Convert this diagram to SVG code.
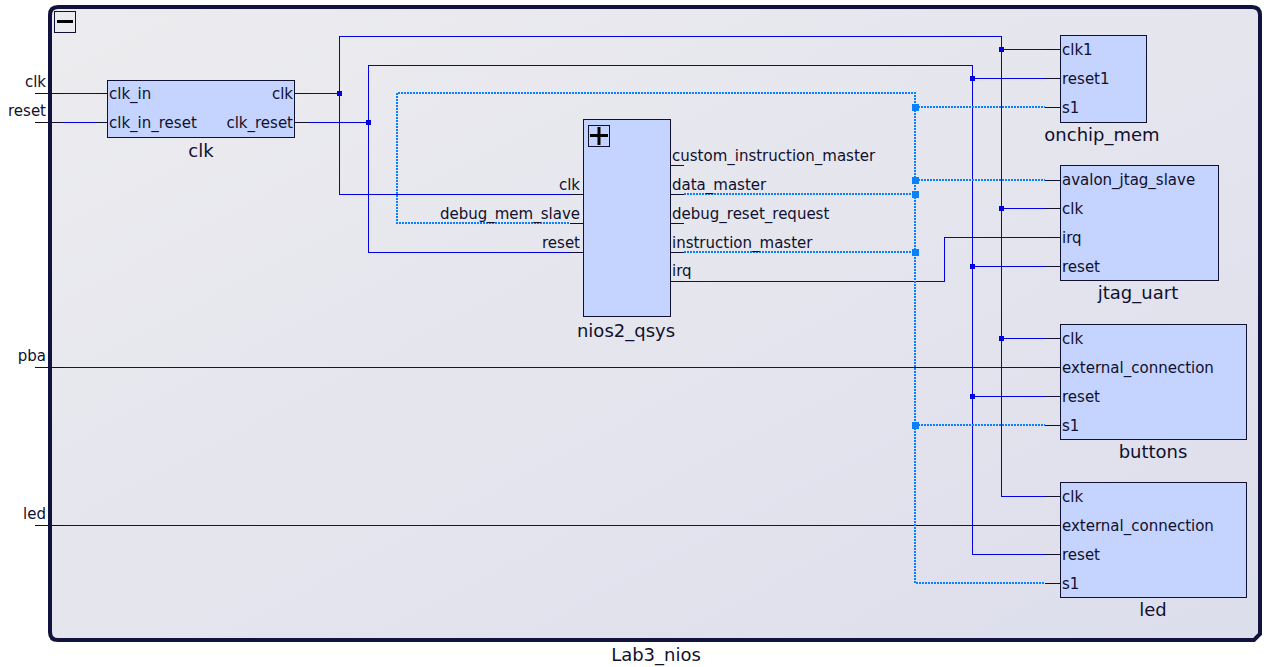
<svg xmlns="http://www.w3.org/2000/svg" width="1272" height="667" viewBox="0 0 1272 667">
<defs>
<linearGradient id="bg" x1="0" y1="0" x2="1" y2="1">
<stop offset="0" stop-color="#ececef"/>
<stop offset="1" stop-color="#dddeec"/>
</linearGradient>
<style>
.t{font-family:"DejaVu Sans",Verdana,sans-serif;font-size:15px;fill:#101030}
.tt{font-family:"DejaVu Sans",Verdana,sans-serif;font-size:18px;fill:#101030;text-anchor:middle}
.r{text-anchor:end}
.blk{fill:#c4d4fe;stroke:#101030;stroke-width:1}
.stub{stroke:#101030;stroke-width:1;fill:none}
.w{stroke:#0000e0;stroke-width:1;fill:none}
.av{stroke:#0a80ff;stroke-width:2;stroke-dasharray:2 1;fill:none}
.j{fill:#0000e0}
.ja{fill:#0a80ff}
</style>
</defs>
<rect width="1272" height="667" fill="#ffffff"/>
<g id="frame">
<path d="M58,7 H1252 Q1260,7 1260,15 V634 L1254,640 H58 Q50,640 50,632 V15 Q50,7 58,7 Z" fill="url(#bg)" stroke="#12123e" stroke-width="4"/>
<rect x="54.5" y="11.5" width="21" height="21" fill="none" stroke="#101030" stroke-width="1"/>
<rect x="57" y="20" width="16" height="3" fill="#000"/>
<text class="tt" x="656" y="661">Lab3_nios</text>
</g>
<g id="connectors" shape-rendering="crispEdges">
<path class="stub" d="M35,93.5 H63 M35,122.5 H63 M35,367.5 H63 M35,525.5 H63 M95,93.5 H107 M95,122.5 H107 M295,93.5 H309 M295,122.5 H309 M570,194.5 H583 M570,223.5 H583 M570,252.5 H583 M670,165.5 H684 M670,194.5 H684 M670,223.5 H684 M670,252.5 H684 M670,281.5 H684 M1045,49.5 H1060 M1045,78.5 H1060 M1045,107.5 H1060 M1045,180.5 H1060 M1045,208.5 H1060 M1045,237.5 H1060 M1045,266.5 H1060 M1045,338.5 H1060 M1045,367.5 H1060 M1045,396.5 H1060 M1045,425.5 H1060 M1045,496.5 H1060 M1045,525.5 H1060 M1045,554.5 H1060 M1045,583.5 H1060"/>
<path class="w" d="M63,93.5 H95 M63,122.5 H95 M63,367.5 H1045 M63,525.5 H1045"/>
<path class="w" d="M309,93.5 H339.5 M570,194.5 H339.5 V36.5 H1001.5 V496.5 H1045 M1001.5,49.5 H1045 M1001.5,208.5 H1045 M1001.5,338.5 H1045"/>
<path class="w" d="M309,122.5 H368.5 M570,252.5 H368.5 V65.5 H972.5 V554.5 H1045 M972.5,78.5 H1045 M972.5,266.5 H1045 M972.5,396.5 H1045"/>
<path class="w" d="M684,281.5 H944.5 V237.5 H1045"/>
<path class="av" d="M569,223 H397 V93 H915 V583 H1045 M915,107 H1045 M915,180 H1045 M684,194 H915 M684,252 H915 M915,425 H1045"/>
<rect class="j" x="337" y="91" width="5" height="5"/>
<rect class="j" x="366" y="120" width="5" height="5"/>
<rect class="j" x="999" y="47" width="5" height="5"/>
<rect class="j" x="999" y="206" width="5" height="5"/>
<rect class="j" x="999" y="336" width="5" height="5"/>
<rect class="j" x="970" y="76" width="5" height="5"/>
<rect class="j" x="970" y="264" width="5" height="5"/>
<rect class="j" x="970" y="394" width="5" height="5"/>
<rect class="ja" x="912" y="104" width="7" height="7"/>
<rect class="ja" x="912" y="177" width="7" height="7"/>
<rect class="ja" x="912" y="191" width="7" height="7"/>
<rect class="ja" x="912" y="249" width="7" height="7"/>
<rect class="ja" x="912" y="422" width="7" height="7"/>
</g>
<g id="exports">
<text class="t r" x="46" y="87">clk</text>
<text class="t r" x="46" y="116">reset</text>
<text class="t r" x="46" y="361">pba</text>
<text class="t r" x="46" y="519">led</text>
</g>
<g id="clk">
<rect class="blk" x="107.5" y="80.5" width="187" height="57"/>
<text class="t" x="109" y="99">clk_in</text>
<text class="t" x="109" y="128">clk_in_reset</text>
<text class="t r" x="293" y="99">clk</text>
<text class="t r" x="293" y="128">clk_reset</text>
<text class="tt" x="201" y="157">clk</text>
</g>
<g id="nios2_qsys">
<rect class="blk" x="583.5" y="119.5" width="87" height="197"/>
<rect x="588.5" y="125.5" width="21" height="21" fill="none" stroke="#101030" stroke-width="1"/>
<rect x="590" y="134" width="18" height="3" fill="#000"/>
<rect x="597.5" y="127" width="3" height="18" fill="#000"/>
<text class="t r" x="580" y="190">clk</text>
<text class="t r" x="580" y="219">debug_mem_slave</text>
<text class="t r" x="580" y="248">reset</text>
<text class="t" x="672" y="161">custom_instruction_master</text>
<text class="t" x="672" y="190">data_master</text>
<text class="t" x="672" y="219">debug_reset_request</text>
<text class="t" x="672" y="248">instruction_master</text>
<text class="t" x="672" y="276">irq</text>
<text class="tt" x="626" y="337">nios2_qsys</text>
</g>
<g id="onchip_mem">
<rect class="blk" x="1060.5" y="35.5" width="86" height="87"/>
<text class="t" x="1062" y="55">clk1</text>
<text class="t" x="1062" y="84">reset1</text>
<text class="t" x="1062" y="113">s1</text>
<text class="tt" x="1102" y="141">onchip_mem</text>
</g>
<g id="jtag_uart">
<rect class="blk" x="1060.5" y="165.5" width="158" height="115"/>
<text class="t" x="1062" y="185">avalon_jtag_slave</text>
<text class="t" x="1062" y="214">clk</text>
<text class="t" x="1062" y="243">irq</text>
<text class="t" x="1062" y="272">reset</text>
<text class="tt" x="1138" y="299">jtag_uart</text>
</g>
<g id="buttons">
<rect class="blk" x="1060.5" y="324.5" width="186" height="115"/>
<text class="t" x="1062" y="344">clk</text>
<text class="t" x="1062" y="373">external_connection</text>
<text class="t" x="1062" y="402">reset</text>
<text class="t" x="1062" y="431">s1</text>
<text class="tt" x="1153" y="458">buttons</text>
</g>
<g id="led">
<rect class="blk" x="1060.5" y="482.5" width="186" height="115"/>
<text class="t" x="1062" y="502">clk</text>
<text class="t" x="1062" y="531">external_connection</text>
<text class="t" x="1062" y="560">reset</text>
<text class="t" x="1062" y="589">s1</text>
<text class="tt" x="1153" y="616">led</text>
</g>
</svg>
